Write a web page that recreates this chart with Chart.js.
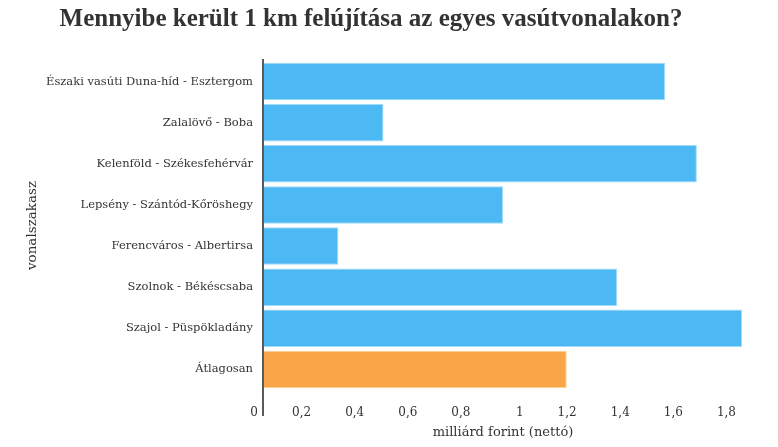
<!DOCTYPE html>
<html>
<head>
<meta charset="utf-8">
<script src="https://cdn.jsdelivr.net/npm/chart.js@4"></script>
<style>
  html, body { margin: 0; padding: 0; background: #fff; }
  #wrap { width: 778px; height: 447px; }
</style>
</head>
<body>
<div id="wrap"><canvas id="myChart"></canvas></div>
<script>
var labels = [
  'Északi vasúti Duna-híd - Esztergom',
  'Zalalövő - Boba',
  'Kelenföld - Székesfehérvár',
  'Lepsény - Szántód-Kőröshegy',
  'Ferencváros - Albertirsa',
  'Szolnok - Békéscsaba',
  'Szajol - Püspökladány',
  'Átlagosan'
];
var costs = [1.51, 0.45, 1.63, 0.90, 0.28, 1.33, 1.80, 1.14];
var barColors = ['#4cb9f4', '#4cb9f4', '#4cb9f4', '#4cb9f4', '#4cb9f4', '#4cb9f4', '#4cb9f4', '#f8a647'];
var edgeColors = ['#9fdaf9', '#9fdaf9', '#9fdaf9', '#9fdaf9', '#9fdaf9', '#9fdaf9', '#9fdaf9', '#fccf99'];

var serif = 'DejaVu Serif';

// vertical axis line, reaching down past the tick labels
var axisLine = {
  id: 'axisLine',
  afterDatasetsDraw: function(chart) {
    var ctx = chart.ctx;
    var x = chart.scales.x.getPixelForValue(0) - 1;
    ctx.save();
    ctx.strokeStyle = '#5a5a5a';
    ctx.lineWidth = 2;
    ctx.beginPath();
    ctx.moveTo(x, chart.chartArea.top - 2);
    ctx.lineTo(x, chart.chartArea.bottom + 26);
    ctx.stroke();
    ctx.restore();
  }
};

var data = {
  labels: labels,
  datasets: [{
    label: 'milliárd forint (nettó)',
    data: costs,
    backgroundColor: barColors,
    borderColor: edgeColors,
    borderWidth: 1,
    barPercentage: 0.91,
    categoryPercentage: 1
  }]
};

var config = {
  type: 'bar',
  data: data,
  plugins: [axisLine],
  options: {
    indexAxis: 'y',
    responsive: true,
    maintainAspectRatio: false,
    animation: false,
    layout: { padding: { left: 0, right: 36, top: 0, bottom: 0 } },
    plugins: {
      legend: { display: false },
      tooltip: { enabled: false },
      title: {
        display: true,
        text: 'Mennyibe került 1 km felújítása az egyes vasútvonalakon?',
        color: '#333',
        font: { family: 'Liberation Serif', size: 25, weight: 'bold' },
        padding: { top: 5, bottom: 26 }
      }
    },
    scales: {
      x: {
        min: 0,
        max: 1.8,
        grid: { display: false },
        border: { display: false },
        afterFit: function(scale) { scale.height = 57; },
        ticks: {
          stepSize: 0.2,
          align: 'end',
          labelOffset: -6,
          padding: 8,
          color: '#333',
          font: { family: serif, size: 12 },
          callback: function(v) {
            return String(Math.round(v * 10) / 10).replace('.', ',');
          }
        },
        title: {
          display: true,
          text: 'milliárd forint (nettó)',
          color: '#333',
          font: { family: serif, size: 13 },
          padding: { top: 0, bottom: 7 }
        }
      },
      y: {
        grid: { display: false, drawTicks: false },
        border: { display: false },
        afterFit: function(scale) { scale.width = 264; },
        ticks: {
          padding: 11,
          color: '#333',
          font: { family: serif, size: 11.5 }
        },
        title: {
          display: true,
          text: 'vonalszakasz',
          color: '#333',
          font: { family: serif, size: 13.5 },
          padding: { top: 24, bottom: 0 }
        }
      }
    }
  }
};

var myChart = new Chart(document.getElementById('myChart'), config);
</script>
</body>
</html>
